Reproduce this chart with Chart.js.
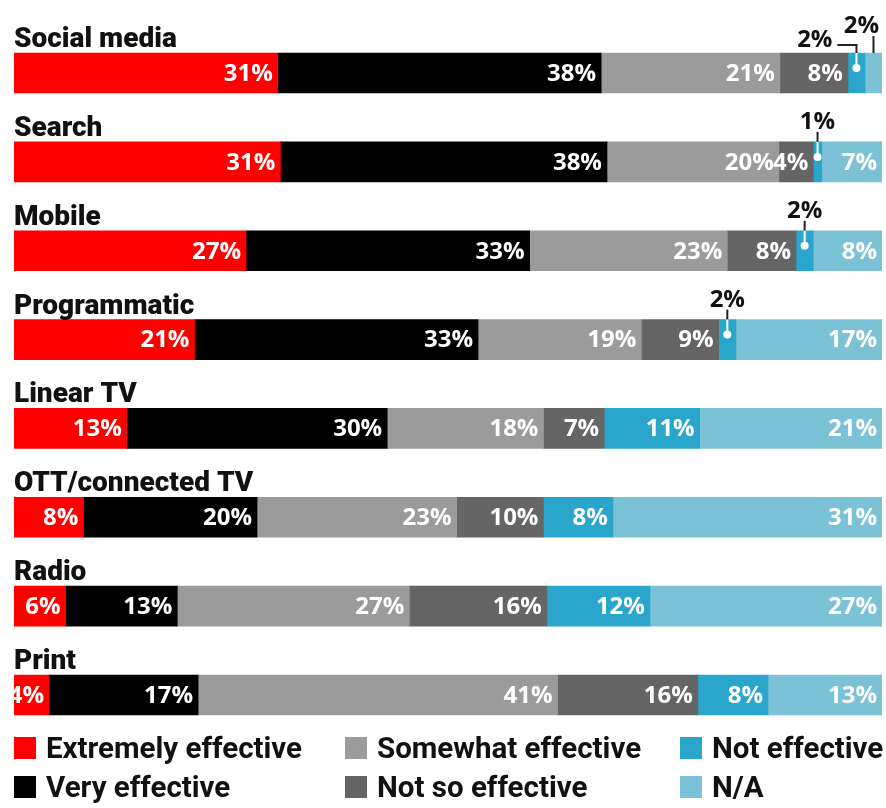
<!DOCTYPE html>
<html>
<head>
<meta charset="utf-8">
<script src="https://cdn.jsdelivr.net/npm/chart.js@4.4.1/dist/chart.umd.min.js"></script>
<style>
  body { margin: 0; background: #fff; }
  #wrap { position: relative; width: 886px; height: 808px; }
  .legend-item { position: absolute; display: flex; align-items: center; font: bold 29.5px Roboto, sans-serif; color: #111; white-space: nowrap; }
  .legend-item .box { width: 22px; height: 22px; margin-right: 10px; }
</style>
</head>
<body>
<div id="wrap">
  <canvas id="effChart"></canvas>
  <div id="legend"></div>
</div>
<script>
const categories = ['Social media', 'Search', 'Mobile', 'Programmatic', 'Linear TV', 'OTT/connected TV', 'Radio', 'Print'];
const extremelyEffective = [31, 31, 27, 21, 13, 8, 6, 4];
const veryEffective      = [38, 38, 33, 33, 30, 20, 13, 17];
const somewhatEffective  = [21, 20, 23, 19, 18, 23, 27, 41];
const notSoEffective     = [8, 4, 8, 9, 7, 10, 16, 16];
const notEffective       = [2, 1, 2, 2, 11, 8, 12, 8];
const notApplicable      = [2, 7, 8, 17, 21, 31, 27, 13];

const series = [
  { name: 'Extremely effective', values: extremelyEffective, color: '#ff0000' },
  { name: 'Very effective',      values: veryEffective,      color: '#000000' },
  { name: 'Somewhat effective',  values: somewhatEffective,  color: '#9b9b9b' },
  { name: 'Not so effective',    values: notSoEffective,     color: '#656565' },
  { name: 'Not effective',       values: notEffective,       color: '#2aa6cd' },
  { name: 'N/A',                 values: notApplicable,      color: '#7cc2d6' }
];

// rounded shares don't always add up to 100, so every bar is scaled to its own total
const rowTotals = categories.map((c, i) => series.reduce((s, d) => s + d.values[i], 0));

// small segments get their label above the bar with a pointer line
const callouts = {
  '0-4': { dx: -24, dy: -6, elbow: true },
  '0-5': { dx: -12, dy: -20, noDot: true }
};

const valueFont = 'bold 24px "Open Sans", sans-serif';
const catFont = '900 28px Roboto, sans-serif';

const labelPlugin = {
  id: 'barLabels',
  afterDatasetsDraw(chart) {
    const ctx = chart.ctx;
    ctx.save();
    categories.forEach((cat, i) => {
      const first = chart.getDatasetMeta(0).data[i];
      const top = first.y - first.height / 2;
      ctx.font = catFont;
      ctx.fillStyle = '#111';
      ctx.textAlign = 'left';
      ctx.textBaseline = 'alphabetic';
      ctx.fillText(cat, chart.chartArea.left, top - 6);

      series.forEach((s, d) => {
        const el = chart.getDatasetMeta(d).data[i];
        const raw = s.values[i];
        const text = raw + '%';
        ctx.font = valueFont;
        if (raw >= 4) {
          ctx.fillStyle = '#fff';
          ctx.textAlign = 'right';
          ctx.textBaseline = 'middle';
          ctx.fillText(text, el.x - 5, el.y + 1);
          return;
        }
        const cx = (el.x + el.base) / 2;
        const c = callouts[i + '-' + d] || { dx: 0, dy: -13 };
        ctx.lineWidth = 2;
        ctx.strokeStyle = '#222';
        ctx.beginPath();
        if (c.elbow) {
          ctx.moveTo(cx + c.dx + 5, top - 8);
          ctx.lineTo(cx, top - 8);
          ctx.lineTo(cx, top);
        } else {
          ctx.moveTo(cx, top + c.dy + 3);
          ctx.lineTo(cx, top);
        }
        ctx.stroke();
        if (!c.noDot) {
          ctx.strokeStyle = '#fff';
          ctx.beginPath();
          ctx.moveTo(cx, top);
          ctx.lineTo(cx, top + 15);
          ctx.stroke();
          ctx.fillStyle = '#fff';
          ctx.beginPath();
          ctx.arc(cx, top + 15, 4, 0, Math.PI * 2);
          ctx.fill();
        }
        ctx.fillStyle = '#111';
        ctx.textBaseline = 'alphabetic';
        ctx.textAlign = c.elbow ? 'right' : 'center';
        ctx.fillText(text, cx + c.dx, top + c.dy);
      });
    });
    ctx.restore();
  }
};

new Chart(document.getElementById('effChart'), {
  type: 'bar',
  data: {
    labels: categories,
    datasets: series.map(s => ({
      label: s.name,
      data: s.values.map((v, i) => v / rowTotals[i] * 100),
      backgroundColor: s.color,
      borderWidth: 0,
      barThickness: 40
    }))
  },
  options: {
    indexAxis: 'y',
    responsive: true,
    maintainAspectRatio: false,
    animation: false,
    layout: { padding: { left: 14, right: 4, top: 28.6, bottom: 68.6 } },
    scales: {
      x: { stacked: true, display: false, min: 0, max: 100 },
      y: { stacked: true, display: false }
    },
    plugins: {
      legend: { display: false },
      tooltip: { enabled: false }
    }
  },
  plugins: [labelPlugin]
});

// legend in three columns, two rows
const legendPos = [[14, 731], [14, 770], [345, 731], [345, 770], [680, 731], [680, 770]];
const legendEl = document.getElementById('legend');
series.forEach((s, k) => {
  const item = document.createElement('div');
  item.className = 'legend-item';
  item.style.left = legendPos[k][0] + 'px';
  item.style.top = legendPos[k][1] + 'px';
  item.innerHTML = '<span class="box" style="background:' + s.color + '"></span>' + s.name;
  legendEl.appendChild(item);
});
</script>
</body>
</html>
